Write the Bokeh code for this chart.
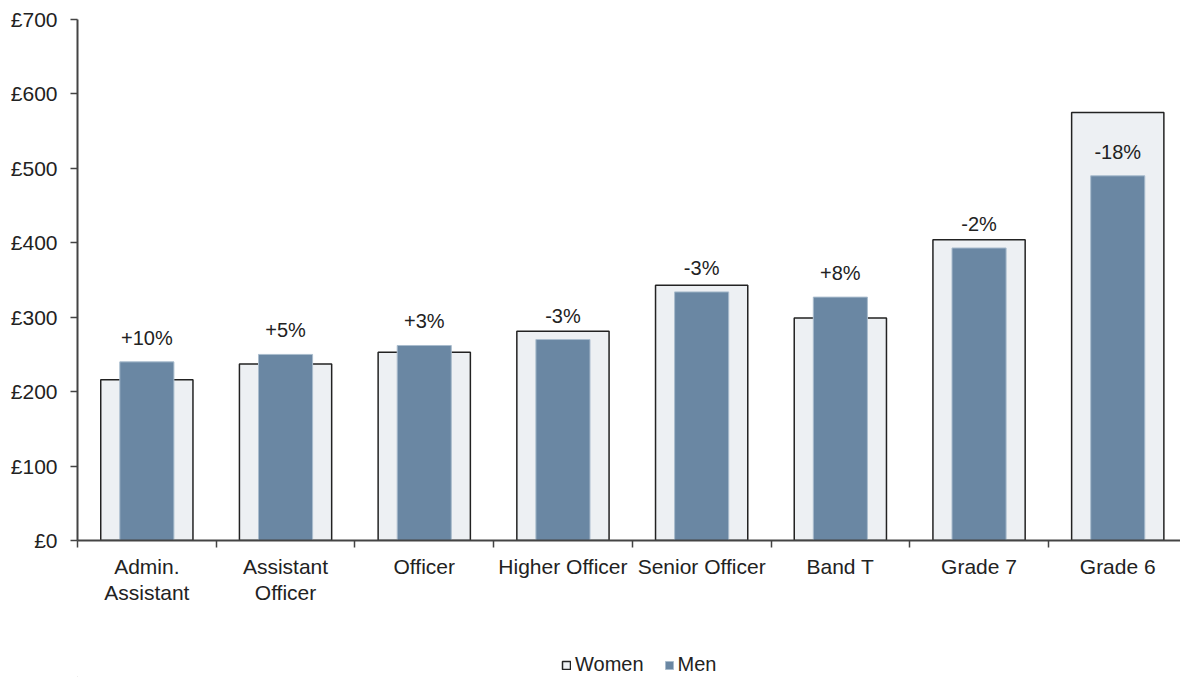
from bokeh.plotting import figure
from bokeh.layouts import column
from bokeh.models import (Range1d, FixedTicker, ColumnDataSource, Legend, LegendItem,
                          CustomJSTickFormatter)
from bokeh.core.properties import value
from bokeh.embed import file_html
from bokeh.resources import INLINE

categories = ["Admin.\nAssistant", "Assistant\nOfficer", "Officer", "Higher Officer",
              "Senior Officer", "Band T", "Grade 7", "Grade 6"]
women = [216, 237, 253, 281, 343, 299, 404, 575]
men = [240, 250, 262, 270, 334, 327, 393, 490]
gap_labels = ["+10%", "+5%", "+3%", "-3%", "-3%", "+8%", "-2%", "-18%"]
y_ticks = [0, 100, 200, 300, 400, 500, 600, 700]

FONT = "Liberation Sans"
TXT = "#222222"
WOMEN_FILL, WOMEN_LINE = "#edf0f3", "#222222"
MEN_FILL, MEN_LINE = "#6a87a3", "#a9bccd"

xs = [i + 0.5 for i in range(len(categories))]
src = ColumnDataSource(dict(x=xs, women=women, men=men, lab=gap_labels))

p = figure(frame_width=1103, frame_height=521, output_backend="svg", toolbar_location=None,
           x_range=Range1d(0, 1103 / 138.7), y_range=Range1d(0, 700),
           min_border_left=77, min_border_right=0, min_border_top=19, min_border_bottom=100)
p.background_fill_color = "white"
p.border_fill_color = "white"
p.outline_line_color = None
p.grid.visible = False

p.vbar(x="x", top="women", bottom=0, width=0.665, source=src,
       fill_color=WOMEN_FILL, line_color=WOMEN_LINE, line_width=1.5)
p.vbar(x="x", top="men", bottom=0, width=0.39, source=src,
       fill_color=MEN_FILL, line_color=MEN_LINE, line_width=1)

p.text(x="x", y="men", text="lab", source=src, text_align="center", text_baseline="alphabetic",
       y_offset=-24, text_font=value(FONT), text_font_size="20px", text_color=TXT)

# axes
xa = p.xaxis[0]
xa.ticker = FixedTicker(ticks=xs, minor_ticks=list(range(len(categories) + 1)))
xa.major_label_overrides = {x: c for x, c in zip(xs, categories)}
xa.major_tick_out = 0
xa.major_tick_in = 0
xa.minor_tick_out = 7
xa.minor_tick_in = 0
xa.minor_tick_line_color = "#444444"
xa.minor_tick_line_width = 1.5
xa.axis_line_color = "#444444"
xa.axis_line_width = 2
xa.major_label_standoff = 7
xa.major_label_text_font = FONT
xa.major_label_text_font_size = "21px"
xa.major_label_text_line_height = 1.15
xa.major_label_text_color = TXT

ya = p.yaxis[0]
ya.ticker = FixedTicker(ticks=y_ticks, minor_ticks=[])
ya.formatter = CustomJSTickFormatter(code="return '\u00a3' + tick.toFixed(0);")
ya.major_tick_out = 7
ya.major_tick_in = 0
ya.major_tick_line_color = "#444444"
ya.major_tick_line_width = 1.5
ya.axis_line_color = "#444444"
ya.axis_line_width = 2
ya.major_label_standoff = 13
ya.major_label_text_font = FONT
ya.major_label_text_font_size = "21px"
ya.major_label_text_color = TXT

# legend strip
p2 = figure(width=1180, height=37, output_backend="svg", toolbar_location=None,
            x_range=Range1d(0, 1), y_range=Range1d(0, 1),
            x_axis_location=None, y_axis_location=None,
            min_border_left=0, min_border_right=0, min_border_top=0, min_border_bottom=0)
p2.outline_line_color = None
p2.grid.visible = False
p2.border_fill_color = "white"
p2.background_fill_color = "white"
lw = p2.vbar(x=[-10], top=[-10], width=0.1, fill_color=WOMEN_FILL, line_color=WOMEN_LINE, line_width=1.5)
lm = p2.vbar(x=[-10], top=[-10], width=0.1, fill_color=MEN_FILL, line_color=MEN_LINE, line_width=1)
legend = Legend(items=[LegendItem(label="Women", renderers=[lw]),
                       LegendItem(label="Men", renderers=[lm])],
                orientation="horizontal", location=(484, 1),
                label_text_font=FONT, label_text_font_size="20px", label_text_color=TXT,
                glyph_width=10, glyph_height=10, label_standoff=4, spacing=20,
                padding=0, margin=0, border_line_color=None, background_fill_alpha=0)
p2.add_layout(legend, "center")

open("out.html", "w").write(file_html(column(p, p2, spacing=0), INLINE))
